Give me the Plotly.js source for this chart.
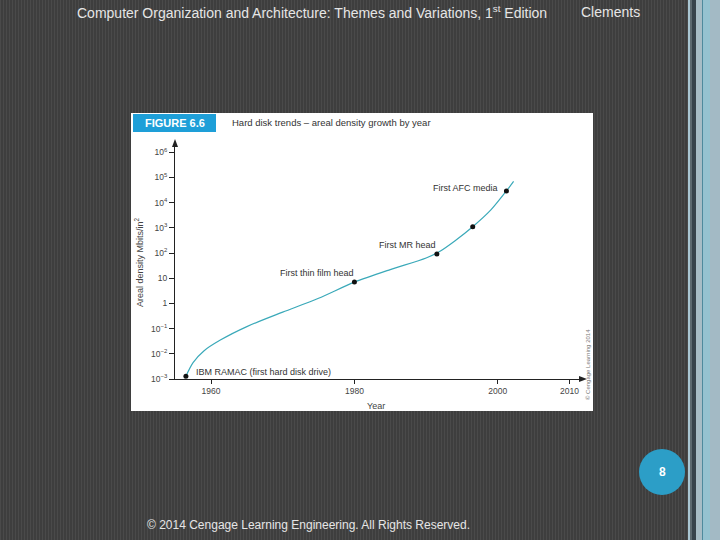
<!DOCTYPE html>
<html>
<head>
<meta charset="utf-8">
<script src="https://cdn.plot.ly/plotly-3.0.1.min.js"></script>
<style>html,body{margin:0;padding:0;background:#424242;}#chart{width:720px;height:540px;}</style>
</head>
<body>
<div id="chart"></div>
<script>
// Trend curve (year, areal density Mbits/in^2)
var curveYears   = [1956.5, 1957.5, 1959, 1961.3, 1965, 1970, 1975, 1980, 1985, 1990, 1992, 1994, 1996.5, 1999, 2001.2, 2002.2];
var curveDensity = [0.0013, 0.0045, 0.013, 0.035, 0.12, 0.45, 1.6, 7.0, 22, 63, 120, 300, 1100, 5000, 29000, 70000];

// Milestones
var milestoneYears   = [1956.5, 1980, 1991.5, 1996.5, 2001.2];
var milestoneDensity = [0.0013, 7.0, 91, 1100, 29000];
var milestoneLabels  = ["IBM RAMAC (first hard disk drive)", "First thin film head", "First MR head", "", "First AFC media"];

// Axis ticks
var yTickVals = [1e-3, 1e-2, 1e-1, 1, 10, 1e2, 1e3, 1e4, 1e5, 1e6];
var yTickText = ["10<sup>\u22123</sup>", "10<sup>\u22122</sup>", "10<sup>\u22121</sup>", "1", "10", "10<sup>2</sup>", "10<sup>3</sup>", "10<sup>4</sup>", "10<sup>5</sup>", "10<sup>6</sup>"];
var xTickVals = [1960, 1980, 2000, 2010];

var W = 720, H = 540;
function px(x){ return x / W; }
function py(y){ return 1 - y / H; }

var shapes = [];
// striped background
for (var sx = 0; sx < 690; sx += 3) {
  shapes.push({type:'rect', xref:'paper', yref:'paper', x0:px(sx), x1:px(sx+1), y0:0, y1:1, fillcolor:'#4a4a4a', line:{width:0}, layer:'below'});
}
// right edge bands
var bands = [[688,690,'#a9c6d2'],[690,692,'#5c6a70'],[692,696,'#37444c'],[696,702,'#a7bdc6'],[702,703,'#4e8a9d'],[703,710,'#95c2d0'],[710,720,'#a3bac5']];
bands.forEach(function(b){
  shapes.push({type:'rect', xref:'paper', yref:'paper', x0:px(b[0]), x1:px(b[1]), y0:0, y1:1, fillcolor:b[2], line:{width:0}, layer:'below'});
});
// white figure panel
shapes.push({type:'rect', xref:'paper', yref:'paper', x0:px(131), x1:px(593), y0:py(411), y1:py(113), fillcolor:'#ffffff', line:{width:0}, layer:'below'});
// header blue box
shapes.push({type:'rect', xref:'paper', yref:'paper', x0:px(133), x1:px(216), y0:py(132), y1:py(114), fillcolor:'#1e9fd8', line:{width:0}, layer:'below'});
// page number circle
shapes.push({type:'circle', xref:'paper', yref:'paper', x0:px(639), x1:px(685), y0:py(495), y1:py(449), fillcolor:'#2c9ec7', line:{width:0}});
// axis arrowheads
shapes.push({type:'path', xref:'paper', yref:'paper',
  path:'M '+px(587)+' '+py(379)+' L '+px(579)+' '+py(376)+' L '+px(579)+' '+py(382)+' Z', fillcolor:'#222', line:{width:0}});
shapes.push({type:'path', xref:'paper', yref:'paper',
  path:'M '+px(175)+' '+py(139)+' L '+px(172)+' '+py(147)+' L '+px(178)+' '+py(147)+' Z', fillcolor:'#222', line:{width:0}});

var axisFont = {family:'Liberation Sans, Arial, sans-serif', size:8.5, color:'#444'};

var annotations = [
  {xref:'paper', yref:'paper', x:px(75), y:py(12), xanchor:'left', yanchor:'middle', showarrow:false,
   text:'Computer Organization and Architecture: Themes and Variations, 1<sup>st</sup> Edition',
   font:{family:'Liberation Sans, Arial, sans-serif', size:14, color:'#e6e6e6'}},
  {xref:'paper', yref:'paper', x:px(579), y:py(12), xanchor:'left', yanchor:'middle', showarrow:false,
   text:'Clements', font:{family:'Liberation Sans, Arial, sans-serif', size:14, color:'#e6e6e6'}},
  {xref:'paper', yref:'paper', x:px(145), y:py(525), xanchor:'left', yanchor:'middle', showarrow:false,
   text:'\u00a9 2014 Cengage Learning Engineering. All Rights Reserved.',
   font:{family:'Liberation Sans, Arial, sans-serif', size:12, color:'#e6e6e6'}},
  {xref:'paper', yref:'paper', x:px(662), y:py(472), xanchor:'center', yanchor:'middle', showarrow:false,
   text:'<b>8</b>', font:{family:'Liberation Sans, Arial, sans-serif', size:12, color:'#ffffff'}},
  {xref:'paper', yref:'paper', x:px(174.5), y:py(123), xanchor:'center', yanchor:'middle', showarrow:false,
   text:'<b>FIGURE 6.6</b>', font:{family:'Liberation Sans, Arial, sans-serif', size:11, color:'#ffffff'}},
  {xref:'paper', yref:'paper', x:px(230), y:py(123), xanchor:'left', yanchor:'middle', showarrow:false,
   text:'Hard disk trends \u2013 areal density growth by year', font:{family:'Liberation Sans, Arial, sans-serif', size:9.5, color:'#333'}},
  {xref:'paper', yref:'paper', x:px(139), y:py(262), xanchor:'center', yanchor:'middle', showarrow:false, textangle:-90,
   text:'Areal density Mbits/in<sup>2</sup>', font:{family:'Liberation Sans, Arial, sans-serif', size:9, color:'#444'}},
  {xref:'paper', yref:'paper', x:px(376), y:py(406), xanchor:'center', yanchor:'middle', showarrow:false,
   text:'Year', font:{family:'Liberation Sans, Arial, sans-serif', size:9, color:'#444'}},
  {xref:'paper', yref:'paper', x:px(588), y:py(365), xanchor:'center', yanchor:'middle', showarrow:false, textangle:-90,
   text:'\u00a9 Cengage Learning 2014', font:{family:'Liberation Sans, Arial, sans-serif', size:6, color:'#777'}}
];

var labelPos = [
  {xanchor:'left', xshift:8, yshift:4},
  {xanchor:'right', xshift:2, yshift:9},
  {xanchor:'right', xshift:1, yshift:9},
  null,
  {xanchor:'right', xshift:-6, yshift:3}
];
for (var i = 0; i < milestoneYears.length; i++) {
  if (!milestoneLabels[i]) continue;
  annotations.push({xref:'x', yref:'y', x:milestoneYears[i], y:Math.log10(milestoneDensity[i]),
    text:milestoneLabels[i], showarrow:false, xanchor:labelPos[i].xanchor, yanchor:'middle',
    xshift:labelPos[i].xshift, yshift:labelPos[i].yshift,
    font:{family:'Liberation Sans, Arial, sans-serif', size:9, color:'#333'}});
}

var traces = [
  {x:curveYears, y:curveDensity, mode:'lines', type:'scatter', line:{color:'#3aa9b9', width:1.2, shape:'spline', smoothing:0.8}, hoverinfo:'skip', cliponaxis:false},
  {x:milestoneYears, y:milestoneDensity, mode:'markers', type:'scatter', marker:{color:'#111', size:5}, cliponaxis:false}
];

var layout = {
  width:W, height:H,
  margin:{l:0, r:0, t:0, b:0},
  paper_bgcolor:'#3e3e3e',
  plot_bgcolor:'rgba(0,0,0,0)',
  showlegend:false,
  xaxis:{domain:[px(175), px(583)], range:[1954.98, 2011.88], showgrid:false, zeroline:false,
    showline:true, linecolor:'#222', linewidth:1, ticks:'outside', ticklen:4, tickcolor:'#222',
    tickvals:xTickVals, tickfont:axisFont},
  yaxis:{domain:[py(379), py(143)], type:'log', range:[-3, 6.365], showgrid:false, zeroline:false,
    showline:true, linecolor:'#222', linewidth:1, ticks:'outside', ticklen:5, tickcolor:'#222',
    tickvals:yTickVals, ticktext:yTickText, tickfont:axisFont},
  shapes:shapes,
  annotations:annotations
};

Plotly.newPlot('chart', traces, layout, {staticPlot:true, displayModeBar:false});
</script>
</body>
</html>
